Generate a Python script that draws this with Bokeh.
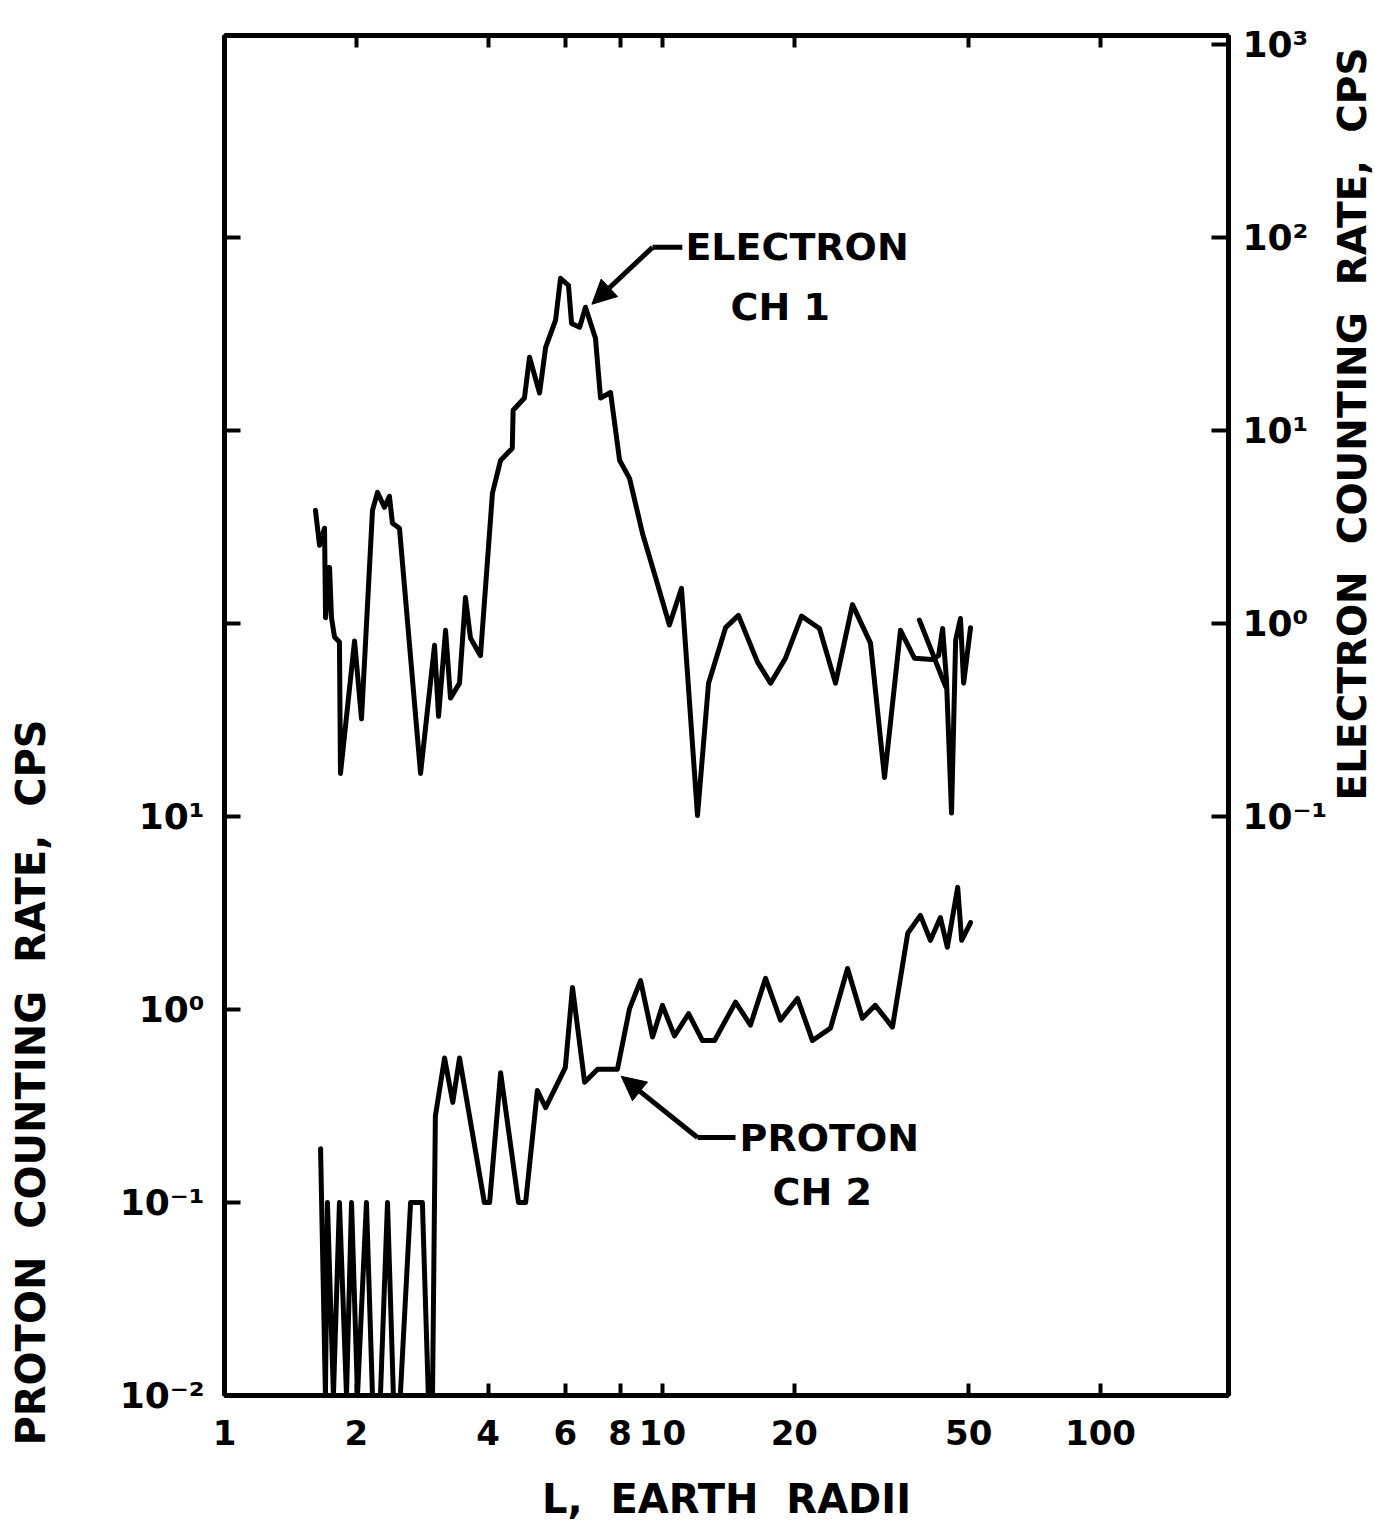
import math
from bokeh.plotting import figure
from bokeh.layouts import row
from bokeh.models import LogAxis, Range1d, FixedTicker, Label, Arrow, NormalHead, LogScale
from bokeh.embed import file_html
from bokeh.resources import INLINE

# ---------------- data ----------------
electron_L = [1.613, 1.648, 1.692, 1.701, 1.737, 1.755, 1.783, 1.830, 1.840, 1.981,
              2.055, 2.177, 2.235, 2.319, 2.380, 2.418, 2.509, 2.803, 3.017, 3.081,
              3.197, 3.281, 3.44, 3.549, 3.644, 3.841, 4.09, 4.27, 4.54, 4.56,
              4.84, 4.97, 5.24, 5.41, 5.70, 5.85, 6.10, 6.20, 6.47, 6.67,
              7.03, 7.22, 7.61, 7.98, 8.41, 9.00, 9.64, 10.37, 11.05, 12.02,
              12.74, 13.93, 14.91, 16.48, 17.65, 19.09, 20.77, 22.83, 24.83, 27.15,
              29.85, 32.13, 34.94, 37.6, 41.3, 42.7, 43.6, 44.5, 45.7, 46.7,
              47.9, 48.7, 50.5]
electron_rate = [3.85, 2.54, 3.11, 1.07, 1.95, 1.07, 0.85, 0.80, 0.167, 0.81,
                 0.32, 3.85, 4.77, 3.99, 4.55, 3.30, 3.11, 0.167, 0.77, 0.33,
                 0.92, 0.41, 0.49, 1.36, 0.84, 0.68, 4.72, 7.0, 8.07, 12.7,
                 14.7, 23.9, 15.6, 26.9, 37.2, 61.3, 56.4, 35.8, 34.2, 43.4,
                 30.0, 14.7, 15.7, 7.0, 5.64, 2.93, 1.73, 0.98, 1.52, 0.101,
                 0.49, 0.95, 1.10, 0.63, 0.49, 0.66, 1.09, 0.94, 0.49, 1.25,
                 0.79, 0.159, 0.92, 0.66, 0.65, 0.68, 0.94, 0.51, 0.104, 0.82,
                 1.06, 0.49, 0.95]
electron_b_L = [38.6, 44.3]
electron_b_rate = [1.04, 0.47]

proton_L = [1.657, 1.70, 1.718, 1.773, 1.830, 1.899, 1.95, 2.012, 2.109, 2.177,
            2.27, 2.356, 2.43, 2.52, 2.66, 2.83, 2.92, 2.985, 3.03, 3.18,
            3.32, 3.44, 3.92, 4.03, 4.27, 4.69, 4.87, 5.18, 5.41, 6.0,
            6.23, 6.64, 7.11, 7.89, 8.41, 8.91, 9.49, 10.0, 10.65, 11.47,
            12.34, 13.15, 14.68, 15.88, 17.19, 18.60, 20.33, 22.0, 24.19, 26.45,
            28.6, 30.6, 33.5, 36.3, 38.8, 40.9, 43.1, 44.7, 47.2, 48.2, 50.5]
proton_rate = [0.19, 0.01, 0.1, 0.01, 0.1, 0.01, 0.1, 0.01, 0.1, 0.01,
               0.01, 0.1, 0.01, 0.01, 0.1, 0.1, 0.01, 0.01, 0.28, 0.56,
               0.33, 0.56, 0.10, 0.10, 0.47, 0.10, 0.10, 0.38, 0.31, 0.50,
               1.30, 0.42, 0.49, 0.49, 1.01, 1.41, 0.72, 1.05, 0.73, 0.95,
               0.69, 0.69, 1.09, 0.83, 1.45, 0.88, 1.14, 0.69, 0.80, 1.63,
               0.90, 1.05, 0.81, 2.48, 3.07, 2.28, 2.99, 2.10, 4.29, 2.28, 2.82]

x_ticks = [1, 2, 4, 6, 8, 10, 20, 50, 100]
x_tick_labels = ["1", "2", "4", "6", "8", "10", "20", "50", "100"]
proton_ticks = [0.01, 0.1, 1, 10, 100, 1000, 10000]
proton_tick_labels = ["10⁻²", "10⁻¹", "10⁰", "10¹", "", "", ""]
electron_ticks = [0.1, 1, 10, 100, 1000]
electron_tick_labels = ["10⁻¹", "10⁰", "10¹", "10²", "10³"]

GAP = " \u00a0"   # wide word gap, as lettered in the original
x_title = GAP.join(["L,", "EARTH", "RADII"])
left_title = GAP.join(["PROTON", "COUNTING", "RATE,", "CPS"])
right_title = GAP.join(["ELECTRON", "COUNTING", "RATE,", "CPS"])

FONT = "DejaVu Sans"
BLACK = "#000000"
H = 1523
LEFT_W = 70
RIGHT_W = 45

p = figure(x_axis_type="log", y_axis_type="log",
           x_range=Range1d(1, 196), y_range=Range1d(0.01, 1.11e5),
           frame_width=1004, frame_height=1360,
           min_border_left=224 - LEFT_W, min_border_right=102,
           min_border_top=35, min_border_bottom=H - 35 - 1360,
           output_backend="svg", toolbar_location=None,
           background_fill_color="white", border_fill_color="white")
p.extra_y_ranges = {"electron": Range1d(1e-4, 1.11e3)}
p.extra_y_scales = {"electron": LogScale()}
p.grid.visible = False
p.outline_line_color = BLACK
p.outline_line_width = 4


def style_axis(ax, size="34px", tick_in=14, standoff=20):
    ax.axis_line_color = BLACK
    ax.axis_line_width = 5
    ax.major_tick_line_color = BLACK
    ax.major_tick_line_width = 4
    ax.major_tick_in = tick_in
    ax.major_tick_out = 0
    ax.minor_tick_line_color = None
    ax.major_label_text_font = FONT
    ax.major_label_text_font_style = "bold"
    ax.major_label_text_font_size = size
    ax.major_label_text_color = BLACK
    ax.major_label_standoff = standoff


# bottom axis
xa = p.xaxis[0]
xa.ticker = FixedTicker(ticks=x_ticks)
xa.major_label_overrides = {t: s for t, s in zip(x_ticks, x_tick_labels)}
style_axis(xa, size="34px", tick_in=12, standoff=24)
xa.axis_label = x_title
xa.axis_label_text_font = FONT
xa.axis_label_text_font_style = "bold"
xa.axis_label_text_font_size = "40px"
xa.axis_label_text_color = BLACK
xa.axis_label_standoff = 28

# left axis (proton)
ya = p.yaxis[0]
ya.ticker = FixedTicker(ticks=proton_ticks)
ya.major_label_overrides = {t: s for t, s in zip(proton_ticks, proton_tick_labels)}
style_axis(ya, size="36px", tick_in=16, standoff=20)

# right axis (electron)
ra = LogAxis(y_range_name="electron", ticker=FixedTicker(ticks=electron_ticks))
ra.major_label_overrides = {t: s for t, s in zip(electron_ticks, electron_tick_labels)}
style_axis(ra, size="36px", tick_in=17, standoff=14)
p.add_layout(ra, "right")

# top axis (ticks only)
ta = LogAxis(ticker=FixedTicker(ticks=x_ticks))
style_axis(ta, size="0px", tick_in=12, standoff=0)
ta.major_label_overrides = {t: "" for t in x_ticks}
p.add_layout(ta, "above")

# data lines
p.line(electron_L, electron_rate, y_range_name="electron",
       line_color=BLACK, line_width=5, line_join="round", line_cap="round")
p.line(electron_b_L, electron_b_rate, y_range_name="electron",
       line_color=BLACK, line_width=5, line_join="round", line_cap="round")
p.line(proton_L, proton_rate,
       line_color=BLACK, line_width=5, line_join="round", line_cap="round")

# in-plot annotations
ann_kw = dict(text_font=FONT, text_font_style="bold", text_font_size="38px",
              text_color=BLACK, text_align="left", text_baseline="middle")
p.add_layout(Label(x=11.28, y=88.7, y_range_name="electron", text="ELECTRON", **ann_kw))
p.add_layout(Label(x=14.3, y=43.4, y_range_name="electron", text="CH 1", **ann_kw))
p.add_layout(Label(x=15.0, y=0.217, text="PROTON", **ann_kw))
p.add_layout(Label(x=17.83, y=0.113, text="CH 2", **ann_kw))

p.line([11.1, 9.49], [88.7, 88.7], y_range_name="electron", line_color=BLACK, line_width=5)
p.add_layout(Arrow(x_start=9.49, y_start=88.7, x_end=6.9, y_end=45.0,
                   y_range_name="electron", line_color=BLACK, line_width=5,
                   end=NormalHead(size=24, fill_color=BLACK, line_color=BLACK)))
p.line([14.68, 12.02], [0.217, 0.217], line_color=BLACK, line_width=5)
p.add_layout(Arrow(x_start=12.02, y_start=0.217, x_end=8.05, y_end=0.45,
                   line_color=BLACK, line_width=5,
                   end=NormalHead(size=24, fill_color=BLACK, line_color=BLACK)))


def side_panel(width, text, cx, bottom_from_top, size):
    f = figure(width=width, height=H, x_range=Range1d(0, width), y_range=Range1d(0, H),
               min_border=0, min_border_left=0, min_border_right=0,
               min_border_top=0, min_border_bottom=0,
               x_axis_location=None, y_axis_location=None,
               output_backend="svg", toolbar_location=None,
               background_fill_color="white", border_fill_color="white")
    f.frame_align = False
    f.grid.visible = False
    f.outline_line_color = None
    f.add_layout(Label(x=cx, y=H - bottom_from_top, text=text, angle=math.pi / 2,
                       text_font=FONT, text_font_style="bold", text_font_size=size,
                       text_color=BLACK, text_align="left", text_baseline="middle"))
    return f


left_panel = side_panel(LEFT_W, left_title, 30, 1445, "40px")
right_panel = side_panel(RIGHT_W, right_title, 22, 800, "39px")

layout = row(left_panel, p, right_panel, spacing=0)
open("out.html", "w").write(file_html(layout, INLINE))
